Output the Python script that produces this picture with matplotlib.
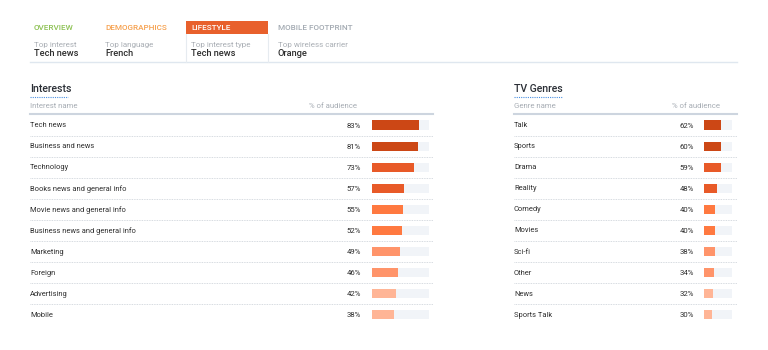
import matplotlib.pyplot as plt
from matplotlib.patches import Rectangle

# tab header
tab_names = ['OVERVIEW', 'DEMOGRAPHICS', 'LIFESTYLE', 'MOBILE FOOTPRINT']
tab_captions = ['Top interest', 'Top language', 'Top interest type', 'Top wireless carrier']
tab_values = ['Tech news', 'French', 'Tech news', 'Orange']
tab_colors = ['#8cc152', '#f6a04d', '#ffffff', '#a3aab2']

# Interests table
interest_names = ['Tech news', 'Business and news', 'Technology', 'Books news and general info',
                  'Movie news and general info', 'Business news and general info', 'Marketing',
                  'Foreign', 'Advertising', 'Mobile']
interest_pct = [83, 81, 73, 57, 55, 52, 49, 46, 42, 38]

# TV genres table
genre_names = ['Talk', 'Sports', 'Drama', 'Reality', 'Comedy', 'Movies', 'Sci-fi',
               'Other', 'News', 'Sports Talk']
genre_pct = [62, 60, 59, 48, 40, 40, 38, 34, 32, 30]

shades = ['#cc4715', '#cc4715', '#e85a28', '#e85a28', '#ff7940', '#ff7940',
          '#ff946a', '#ff946a', '#ffb596', '#ffb596']

W, H = 768, 350
fig = plt.figure(figsize=(W / 100, H / 100), dpi=100)
bg = fig.add_axes([0, 0, 1, 1])
bg.set_xlim(0, W)
bg.set_ylim(H, 0)
bg.axis('off')

font = 'Roboto'
dark = '#2e2e2e'

# tabs
tab_x = [34, 105, 191, 278]
bg.plot([30, 737], [62, 62], color='#dfe7ef', lw=1)
bg.add_patch(Rectangle((186, 21), 82, 13, color='#e8602c', lw=0))
bg.plot([186, 186], [34, 62], color='#e6ebf0', lw=0.8)
bg.plot([268, 268], [34, 62], color='#e6ebf0', lw=0.8)
for i in range(len(tab_names)):
    bg.text(tab_x[i], 28, tab_names[i], color=tab_colors[i], fontsize=5.9,
            family=font, va='center', ha='left', fontweight='medium')
    bg.text(tab_x[i], 44.5, tab_captions[i], color='#a9aeb4', fontsize=5.8,
            family=font, va='center', ha='left')
    bg.text(tab_x[i], 54, tab_values[i], color=dark, fontsize=6.7, family=font,
            va='center', ha='left', fontweight='medium')


def table(names, pct, title, colname, x0, x1, pct_x, head_x, bar_x0, bar_x1, tw):
    row0, pitch = 125, 21.1
    bg.text(x0, 89, title, color='#2b2f36', fontsize=7.6, family=font,
            va='center', ha='left', fontweight='medium')
    bg.plot([x0, x0 + tw], [96.5, 96.5], color='#4a90e2', lw=0.8, ls=(0, (1, 1)))
    bg.text(x0, 106, colname, color='#a7adb4', fontsize=5.6, family=font,
            va='center', ha='left')
    bg.text(head_x, 106, '% of audience', color='#a7adb4', fontsize=5.6,
            family=font, va='center', ha='right')
    bg.plot([x0, x1], [114, 114], color='#cdd5df', lw=1.5)
    n = len(names)
    for i in range(n):
        y = row0 + i * pitch
        bg.text(x0, y + 0.5, names[i], color=dark, fontsize=5.4, family=font,
                va='center', ha='left')
        bg.text(pct_x, y + 0.5, f'{pct[i]}%', color=dark, fontsize=5.6, family=font,
                va='center', ha='right')
        if i < n - 1:
            bg.plot([x0, x1], [y + pitch / 2, y + pitch / 2], color='#c9cfd6',
                    lw=0.6, ls=(0, (1, 1)))
    top = row0 - pitch / 2
    bot = row0 + (n - 1) * pitch + pitch / 2
    ax = fig.add_axes([bar_x0 / W, 1 - bot / H, (bar_x1 - bar_x0) / W, (bot - top) / H])
    ys = list(range(n))
    ax.barh(ys, [100] * n, height=0.43, color='#f1f4f8', lw=0)
    ax.barh(ys, pct, height=0.43, color=shades[:n], lw=0)
    ax.set_xlim(0, 100)
    ax.set_ylim(n - 0.5, -0.5)
    ax.axis('off')


table(interest_names, interest_pct, 'Interests', 'Interest name',
      30, 433, 361, 357, 372, 429, 38)
table(genre_names, genre_pct, 'TV Genres', 'Genre name',
      514, 737, 694, 720, 704, 732, 48)

fig.savefig('out.png', dpi=100, facecolor='white')
